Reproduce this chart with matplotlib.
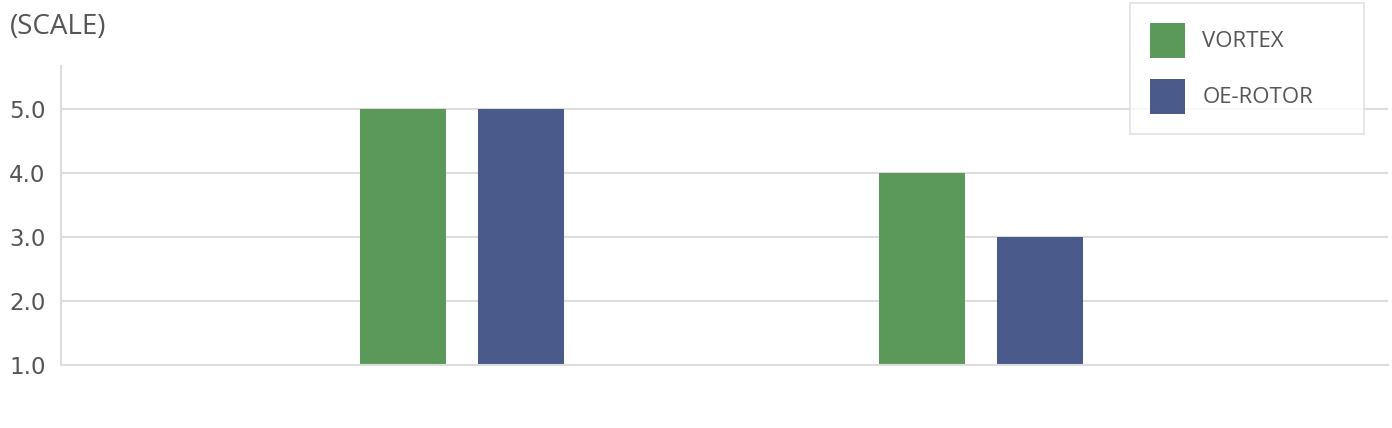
import numpy as np
import matplotlib
matplotlib.use("Agg")
import matplotlib.pyplot as plt

plt.rcParams['font.family'] = ['Open Sans', 'DejaVu Sans']

# data
groups = ['A', 'B']
series_names = ['VORTEX', 'OE-ROTOR']
vortex = [5.0, 4.0]
oe_rotor = [5.0, 3.0]
yticks = [1.0, 2.0, 3.0, 4.0, 5.0]

colors = ['#5b995a', '#4a5a8a']
grid_color = '#dddddd'
text_color = '#555555'

fig = plt.figure(figsize=(13.92, 4.28), dpi=100)
ax = fig.add_axes([61 / 1392, 1 - 365 / 428, 1327 / 1392, 299 / 428])

x = np.arange(len(groups))
width = 0.1657
offset = 0.1137
ax.bar(x - offset, vortex, width, color=colors[0], label=series_names[0])
ax.bar(x + offset, oe_rotor, width, color=colors[1], label=series_names[1])

ax.set_xlim(-0.7726, 1.784)
ax.set_ylim(1.0, 5.672)
ax.set_yticks(yticks)
ax.set_yticklabels([f'{v:.1f}' for v in yticks], family='DejaVu Sans')
ax.set_xticks([])

ax.set_axisbelow(True)
ax.grid(axis='y', color=grid_color, linewidth=1.5)
for side in ['top', 'right']:
    ax.spines[side].set_visible(False)
for side in ['left', 'bottom']:
    ax.spines[side].set_color(grid_color)
    ax.spines[side].set_linewidth(1.5)

ax.tick_params(axis='y', length=0, pad=11, labelsize=16.5, labelcolor=text_color)

fig.text(10 / 1392, 1 - 27 / 428, '(SCALE)', fontsize=20, color=text_color,
         ha='left', va='center')

leg = ax.legend(loc='upper left', mode='expand',
                bbox_to_anchor=(1130 / 1392, 0.2, 234 / 1392, 1 - 3 / 428 - 0.2),
                bbox_transform=fig.transFigure,
                fontsize=16, handlelength=1.575, handleheight=2.05,
                handletextpad=0.79, labelspacing=0.94, borderpad=0.89,
                borderaxespad=0, fancybox=False, frameon=True)
leg.get_frame().set_edgecolor(grid_color)
leg.get_frame().set_linewidth(1.3)
for t in leg.get_texts():
    t.set_color(text_color)

fig.savefig('out.png', dpi=100)
